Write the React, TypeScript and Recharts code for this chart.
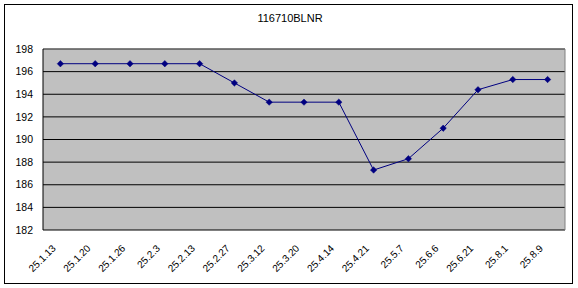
import React from "react";
import {
  LineChart,
  Line,
  XAxis,
  YAxis,
  CartesianGrid,
  ReferenceLine,
} from "recharts";

const TITLE = "116710BLNR";

const DATE_LABELS = [
  "25.1.13",
  "25.1.20",
  "25.1.26",
  "25.2.3",
  "25.2.13",
  "25.2.27",
  "25.3.12",
  "25.3.20",
  "25.4.14",
  "25.4.21",
  "25.5.7",
  "25.6.6",
  "25.6.21",
  "25.8.1",
  "25.8.9",
];

const PRICES = [
  196.7, 196.7, 196.7, 196.7, 196.7, 195.0, 193.3, 193.3, 193.3, 187.3, 188.3,
  191.0, 194.4, 195.3, 195.3,
];

const Y_TICKS = [182, 184, 186, 188, 190, 192, 194, 196, 198];

const FONT = "'Liberation Sans', Arial, sans-serif";
const NAVY = "#000080";

// category slots: each date sits in the middle of its slot
const chartData = DATE_LABELS.map((label, i) => ({
  label,
  slot: i + 0.5,
  price: PRICES[i],
}));
const boundaryTicks = DATE_LABELS.map((_, i) => i).concat(DATE_LABELS.length);
const centerTicks = DATE_LABELS.map((_, i) => i + 0.5);

function BoundaryTick(props: any) {
  const { x, y } = props;
  return <line x1={x} x2={x} y1={y - 3} y2={y} stroke="#000" strokeWidth={1} />;
}

function DateTick(props: any) {
  const { x, y, payload } = props;
  const label = DATE_LABELS[Math.floor(payload.value)];
  return (
    <text
      transform={`translate(${x - 4},${y + 19}) rotate(-45)`}
      textAnchor="end"
      fontSize={10}
      fontFamily={FONT}
      fill="#000"
    >
      {label}
    </text>
  );
}

function Diamond(props: any) {
  const { cx, cy, index } = props;
  const r = 3.2;
  return (
    <path
      key={`d-${index}`}
      d={`M${cx},${cy - r}L${cx + r},${cy}L${cx},${cy + r}L${cx - r},${cy}Z`}
      fill={NAVY}
      stroke={NAVY}
      strokeWidth={0.5}
    />
  );
}

export default function App() {
  return (
    <div
      style={{
        position: "absolute",
        left: 0,
        top: 0,
        width: 578,
        height: 288,
        background: "#fff",
        fontFamily: FONT,
      }}
    >
      <div
        style={{
          position: "absolute",
          left: 4,
          top: 4,
          width: 569,
          height: 280,
          border: "1px solid #000",
          boxSizing: "border-box",
        }}
      />
      <div
        style={{
          position: "absolute",
          left: 0,
          top: 12,
          width: 580,
          textAlign: "center",
          fontSize: 11,
          color: "#000",
        }}
      >
        {TITLE}
      </div>
      <div style={{ position: "absolute", left: 0, top: 0 }}>
        <LineChart
          width={578}
          height={288}
          data={chartData}
          margin={{ top: 49, right: 13, left: 3, bottom: 8 }}
        >
          <CartesianGrid
            vertical={false}
            stroke="#000"
            fill="#C0C0C0"
            fillOpacity={1}
          />
          <XAxis
            type="number"
            dataKey="slot"
            domain={[0, DATE_LABELS.length]}
            ticks={boundaryTicks}
            allowDataOverflow
            height={0}
            tickSize={0}
            tickMargin={0}
            tickLine={false}
            tick={<BoundaryTick />}
            axisLine={{ stroke: "#000" }}
            interval={0}
          />
          <XAxis
            xAxisId="labels"
            type="number"
            dataKey="slot"
            domain={[0, DATE_LABELS.length]}
            ticks={centerTicks}
            allowDataOverflow
            height={50}
            tickSize={0}
            tickMargin={0}
            tickLine={false}
            axisLine={false}
            tick={<DateTick />}
            interval={0}
          />
          <YAxis
            domain={[182, 198]}
            ticks={Y_TICKS}
            allowDataOverflow
            width={40}
            tickLine={false}
            tickSize={0}
            tickMargin={10}
            axisLine={{ stroke: "#000" }}
            tick={{ fontSize: 10.5, fill: "#000", fontFamily: FONT }}
            interval={0}
          />
          <ReferenceLine y={198} stroke="#808080" strokeWidth={1} />
          <ReferenceLine x={DATE_LABELS.length} stroke="#808080" strokeWidth={1} />
          <Line
            type="linear"
            dataKey="price"
            stroke={NAVY}
            strokeWidth={1}
            dot={Diamond}
            activeDot={false}
            isAnimationActive={false}
          />
        </LineChart>
      </div>
    </div>
  );
}
